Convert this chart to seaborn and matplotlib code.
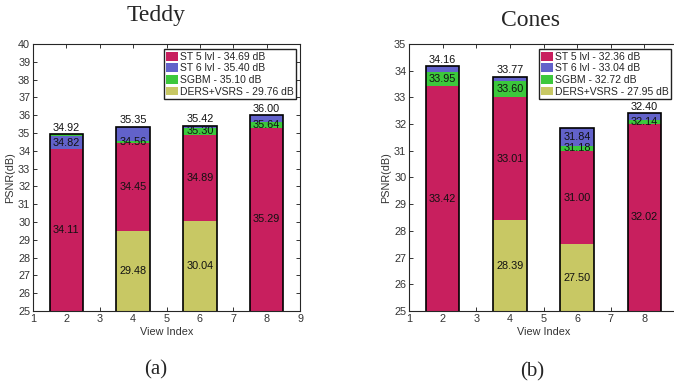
import numpy as np
import pandas as pd
import matplotlib
matplotlib.use("Agg")
import matplotlib.pyplot as plt
import seaborn as sns
from matplotlib.patches import Patch

# ---------------- data ----------------
methods = ["ST 5 lvl", "ST 6 lvl", "SGBM", "DERS+VSRS"]
views = [2, 4, 6, 8]
all_views = [1, 2, 3, 4, 5, 6, 7, 8, 9]

teddy_st5 = [34.11, 34.45, 34.89, 35.29]
teddy_st6 = [34.82, 35.35, 35.42, 36.00]
teddy_sgbm = [34.92, 34.56, 35.30, 35.64]
teddy_ders = [np.nan, 29.48, 30.04, np.nan]
teddy_legend = ["ST 5 lvl - 34.69 dB", "ST 6 lvl - 35.40 dB",
                "SGBM - 35.10 dB", "DERS+VSRS - 29.76 dB"]

cones_st5 = [33.42, 33.01, 31.00, 32.02]
cones_st6 = [34.16, 33.77, 31.84, 32.40]
cones_sgbm = [33.95, 33.60, 31.18, 32.14]
cones_ders = [np.nan, 28.39, 27.50, np.nan]
cones_legend = ["ST 5 lvl - 32.36 dB", "ST 6 lvl - 33.04 dB",
                "SGBM - 32.72 dB", "DERS+VSRS - 27.95 dB"]

colors = ["#C81F5E", "#6262CA", "#3CC83C", "#C8C864"]
palette = dict(zip(methods, colors))

# ---------------- style ----------------
sns.set_style("ticks")
plt.rcParams["font.family"] = ["Liberation Sans", "DejaVu Sans"]
FS = 7.8
LFS = 7.5
TXT = "#333333"

fig = plt.figure(figsize=(6.74, 3.90), dpi=100)
W, H = 674, 390


def axes_px(x0, x1, y0, y1):
    return fig.add_axes([x0 / W, 1 - y1 / H, (x1 - x0) / W, (y1 - y0) / H])


def draw(ax, st5, st6, sgbm, ders, legend_labels, ymax, top_inside, leg_anchor,
         n_ticks):
    rows = []
    for m, vals in zip(methods, [st5, st6, sgbm, ders]):
        for v, val in zip(views, vals):
            if not np.isnan(val):
                rows.append(dict(view=str(v), method=m, value=val))
    df = pd.DataFrame(rows)
    df["layer"] = df.groupby("view")["value"].rank(ascending=False, method="first").astype(int)
    order = [str(v) for v in all_views]

    for layer in sorted(df["layer"].unique()):
        sub = df[df["layer"] == layer]
        sns.barplot(data=sub, x="view", y="value", hue="method", hue_order=methods,
                    palette=palette, order=order, dodge=False, width=1.0,
                    errorbar=None, legend=False, linewidth=0, saturation=1, ax=ax)
    top = df[df["layer"] == 1]
    sns.barplot(data=top, x="view", y="value", order=order, width=1.0,
                errorbar=None, fill=False, color="black", linewidth=1.2,
                saturation=1, ax=ax)

    # value labels
    for v in views:
        vals = sorted(df[df["view"] == str(v)]["value"].tolist())
        xpos = order.index(str(v))
        prev = 25.0
        for i, val in enumerate(vals):
            if i == len(vals) - 1 and v not in top_inside:
                ax.annotate(f"{val:.2f}", (xpos, val), xytext=(0, 1),
                            textcoords="offset points", ha="center", va="bottom",
                            fontsize=FS, color="#111111")
            else:
                ax.text(xpos, (prev + val) / 2, f"{val:.2f}", ha="center",
                        va="center", fontsize=FS, color="#111111")
            prev = val

    ax.set_xlim(0, 8)
    ax.set_xticks(range(n_ticks))
    ax.set_xticklabels([str(v) for v in all_views[:n_ticks]])
    ax.set_ylim(25, ymax)
    ax.set_yticks(range(25, ymax + 1))
    ax.tick_params(direction="in", top=True, right=True, length=3, width=0.7,
                   labelsize=FS, colors=TXT, pad=2)
    for s in ax.spines.values():
        s.set_visible(True)
        s.set_color("#262626")
        s.set_linewidth(0.8)
    ax.set_xlabel("View Index", fontsize=FS, color=TXT, labelpad=2)
    ax.set_ylabel("PSNR(dB)", fontsize=FS, color=TXT, labelpad=2)

    handles = [Patch(facecolor=c, edgecolor="none") for c in colors]
    leg = ax.legend(handles, legend_labels, loc="upper right",
                    bbox_to_anchor=(leg_anchor[0] / W, 1 - leg_anchor[1] / H),
                    bbox_transform=fig.transFigure, fontsize=LFS, frameon=True,
                    fancybox=False, framealpha=1, edgecolor="#222222",
                    handlelength=1.1, handleheight=0.95, handletextpad=0.2,
                    labelspacing=0.15, borderpad=0.25, borderaxespad=0)
    leg.get_frame().set_linewidth(1.0)


ax1 = axes_px(33, 300, 44, 311)
draw(ax1, teddy_st5, teddy_st6, teddy_sgbm, teddy_ders, teddy_legend, 40, [],
     (296, 49), 9)

ax2 = axes_px(409, 678, 44, 311)
draw(ax2, cones_st5, cones_st6, cones_sgbm, cones_ders, cones_legend, 35, [6],
     (671, 49), 8)

serif = ["Liberation Serif", "DejaVu Serif"]
fig.text(156 / W, 1 - 16 / H, "Teddy", ha="center", va="center", fontsize=17, family=serif)
fig.text(530 / W, 1 - 20 / H, "Cones", ha="center", va="center", fontsize=17, family=serif)
fig.text(156 / W, 1 - 370 / H, "(a)", ha="center", va="center", fontsize=15, family=serif)
fig.text(532 / W, 1 - 372 / H, "(b)", ha="center", va="center", fontsize=15, family=serif)

fig.savefig("out.png", dpi=100)
